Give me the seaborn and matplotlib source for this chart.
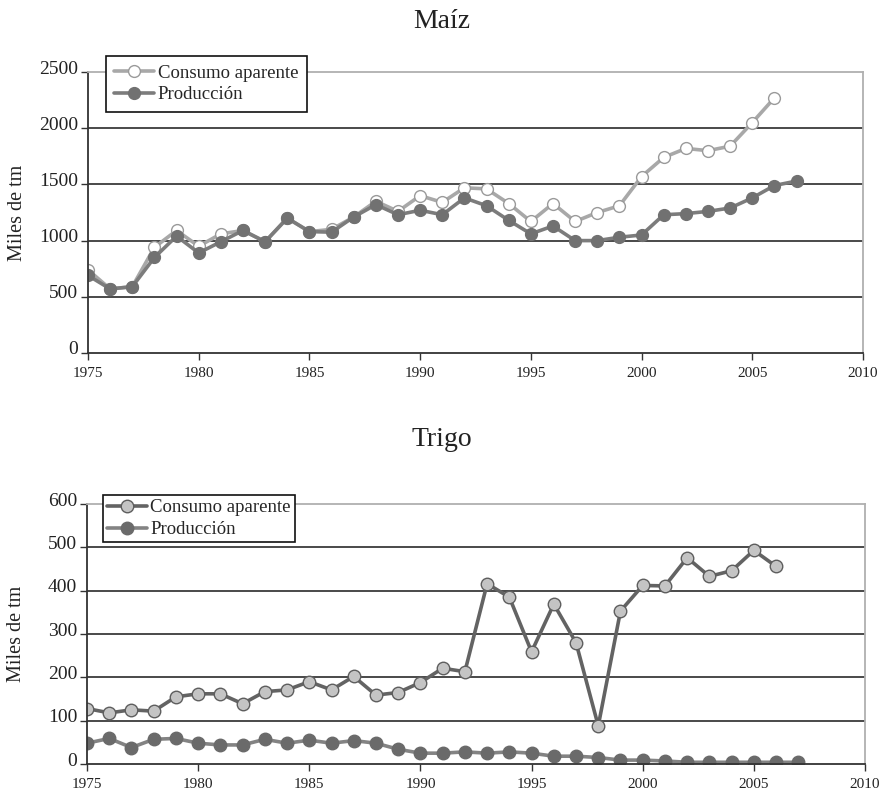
import matplotlib
matplotlib.use("Agg")
import matplotlib.pyplot as plt
import matplotlib.transforms as mtransforms
import seaborn as sns
import numpy as np

# ---------------- data ----------------
years_cons = list(range(1975, 2007))   # 1975-2006
years_prod = list(range(1975, 2008))   # 1975-2007

maiz_consumo = [740, 570, 590, 940, 1090, 950, 1060, 1090, 990, 1200, 1080, 1100,
                1210, 1350, 1260, 1400, 1340, 1470, 1460, 1330, 1170, 1330, 1170,
                1250, 1310, 1570, 1740, 1820, 1800, 1840, 2050, 2270]
maiz_produccion = [690, 570, 590, 850, 1040, 890, 990, 1090, 990, 1200, 1080, 1075,
                   1210, 1320, 1230, 1270, 1230, 1380, 1310, 1180, 1060, 1130, 1000,
                   1000, 1030, 1050, 1230, 1240, 1260, 1290, 1380, 1490, 1530]

trigo_consumo = [128, 118, 125, 122, 155, 162, 162, 139, 167, 171, 190, 171, 202,
                 159, 165, 188, 221, 213, 416, 385, 259, 369, 280, 88, 353, 412,
                 411, 476, 433, 446, 493, 456]
trigo_produccion = [48, 59, 38, 57, 59, 48, 44, 44, 57, 48, 55, 48, 54, 48, 34, 25,
                    25, 28, 25, 28, 25, 18, 18, 15, 9, 9, 7, 4, 4, 4, 4, 4, 4]

titles = ["Maíz", "Trigo"]
ylabel = "Miles de tm"
labels = ["Consumo aparente", "Producción"]
x_ticks = [1975, 1980, 1985, 1990, 1995, 2000, 2005, 2010]
maiz_yticks = [0, 500, 1000, 1500, 2000, 2500]
trigo_yticks = [0, 100, 200, 300, 400, 500, 600]

# ---------------- style ----------------
sns.set_theme(style="white")
plt.rcParams["font.family"] = ["Liberation Serif", "DejaVu Serif"]

W, H = 883, 792
fig = plt.figure(figsize=(W / 100, H / 100), dpi=100)

def px_axes(left, top, right, bottom):
    return fig.add_axes([left / W, 1 - bottom / H, (right - left) / W, (bottom - top) / H])

ax1 = px_axes(88, 72, 863, 353)
ax2 = px_axes(87, 504, 865, 764)

# Maíz
sns.lineplot(x=years_cons, y=maiz_consumo, ax=ax1, color="#a8a8a8", linewidth=2.6,
             marker="o", markersize=8.5, markerfacecolor="white",
             markeredgecolor="#9a9a9a", markeredgewidth=1.0, label=labels[0])
sns.lineplot(x=years_prod, y=maiz_produccion, ax=ax1, color="#7c7c7c", linewidth=2.6,
             marker="o", markersize=8.5, markerfacecolor="#717171",
             markeredgecolor="#717171", markeredgewidth=1.0, label=labels[1])

# Trigo
sns.lineplot(x=years_cons, y=trigo_consumo, ax=ax2, color="#636363", linewidth=2.6,
             marker="o", markersize=9, markerfacecolor="#c4c4c4",
             markeredgecolor="#5e5e5e", markeredgewidth=1.0, label=labels[0])
sns.lineplot(x=years_prod, y=trigo_produccion, ax=ax2, color="#838383", linewidth=2.6,
             marker="o", markersize=9, markerfacecolor="#6a6a6a",
             markeredgecolor="#6a6a6a", markeredgewidth=1.0, label=labels[1])

def style_axes(ax, yticks, legend_anchor, borderpad):
    ax.set_xlim(1975, 2010)
    ax.set_ylim(yticks[0], yticks[-1])
    ax.set_xticks(x_ticks)
    ax.set_yticks(yticks)
    ax.set_xticklabels([str(t) for t in x_ticks], fontsize=11)
    ax.set_yticklabels([str(t) for t in yticks], fontsize=14)
    ax.set_xlabel("")
    ax.set_ylabel(ylabel, fontsize=14.5, color="#222222")
    ax.yaxis.set_label_coords(-0.079, 0.5)
    ax.tick_params(axis="x", direction="out", length=5, width=1.0, color="#333333",
                   labelcolor="#222222", pad=5, bottom=True)
    ax.tick_params(axis="y", direction="out", length=5, width=1.0, color="#333333",
                   labelcolor="#222222", pad=2, left=True)
    shift = mtransforms.ScaledTranslation(0, 5 / 100, fig.dpi_scale_trans)
    for lbl in ax.get_yticklabels():
        lbl.set_transform(lbl.get_transform() + shift)
    ax.grid(axis="y", color="#3a3a3a", linewidth=1.3)
    ax.grid(axis="x", visible=False)
    ax.set_axisbelow(True)
    gls = ax.get_ygridlines()
    gls[-1].set_visible(False)
    gls[0].set_visible(False)
    for side in ["left", "bottom"]:
        ax.spines[side].set_color("#333333")
        ax.spines[side].set_linewidth(1.3)
    for side in ["top", "right"]:
        ax.spines[side].set_color("#b0b0b0")
        ax.spines[side].set_linewidth(1.3)
    leg = ax.legend(loc="upper left", bbox_to_anchor=legend_anchor, borderaxespad=0,
                    frameon=True, fancybox=False, fontsize=13.5, handlelength=2.1,
                    handletextpad=0.2, labelspacing=0.25, borderpad=borderpad)
    leg.get_frame().set_edgecolor("#111111")
    leg.get_frame().set_linewidth(1.2)
    leg.get_frame().set_alpha(1)

style_axes(ax1, maiz_yticks, (18 / 775, 1 + 16 / 281), 0.45)
style_axes(ax2, trigo_yticks, (16 / 778, 1 + 9 / 260), 0.22)

fig.text(0.5, 1 - 22 / H, titles[0], ha="center", va="center", fontsize=20, color="#222222")
fig.text(0.5, 1 - 440 / H, titles[1], ha="center", va="center", fontsize=20, color="#222222")

fig.savefig("out.png", dpi=100)
